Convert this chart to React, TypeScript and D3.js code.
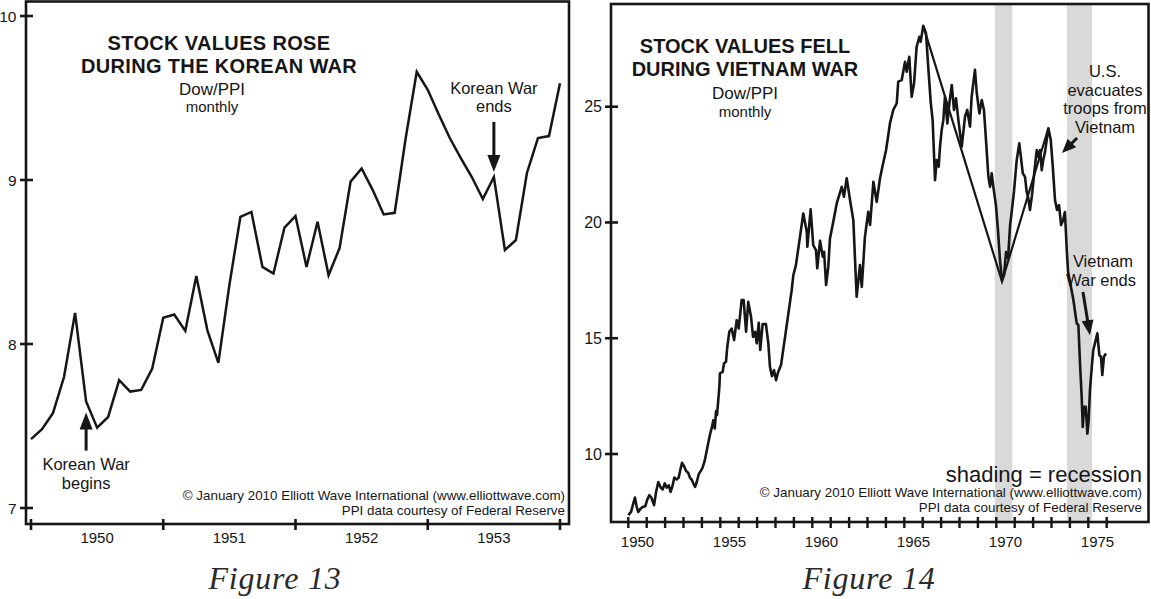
import React from 'react';
import * as d3 from 'd3';

// ---------- Figure 13: Korean War, Dow/PPI monthly, Jan 1950 .. Jan 1954 ----------
const koreaValues = [
  7.42, 7.48, 7.58, 7.80, 8.19, 7.65, 7.49, 7.555, 7.78, 7.71,
  7.72, 7.85, 8.16, 8.18, 8.08, 8.415, 8.085, 7.885, 8.36, 8.775,
  8.805, 8.47, 8.43, 8.71, 8.78, 8.47, 8.745, 8.42, 8.585, 8.99,
  9.07, 8.94, 8.79, 8.80, 9.256, 9.66, 9.55, 9.40, 9.256, 9.134,
  9.018, 8.884, 9.018, 8.573, 8.634, 9.043, 9.256, 9.268, 9.59,
];
const koreaYearLabels = ['1950', '1951', '1952', '1953'];
const koreaYTicks = [7, 8, 9, 10];

// ---------- Figure 14: Vietnam War, Dow/PPI monthly (turning points) ----------
const vietnamOffsets = [
  0.00, 0.15, 0.27, 0.36, 0.46, 0.54, 0.67, 0.78, 0.92, 1.03,
  1.14, 1.25, 1.40, 1.51, 1.63, 1.76, 1.87, 1.98, 2.09, 2.20,
  2.30, 2.41, 2.50, 2.63, 2.74, 2.83, 2.92, 3.03, 3.14, 3.26,
  3.35, 3.46, 3.55, 3.63, 3.72, 3.83, 3.94, 4.04, 4.15, 4.26,
  4.37, 4.46, 4.55, 4.62, 4.70, 4.77, 4.82, 4.89, 4.95, 4.98,
  5.13, 5.20, 5.31, 5.38, 5.49, 5.62, 5.75, 5.89, 6.00, 6.16,
  6.27, 6.40, 6.52, 6.67, 6.78, 6.89, 6.98, 7.09, 7.17, 7.30,
  7.48, 7.61, 7.70, 7.81, 7.92, 8.03, 8.14, 8.30, 8.52, 8.70,
  8.88, 8.97, 9.11, 9.33, 9.51, 9.70, 9.73, 9.91, 10.05, 10.20,
  10.27, 10.42, 10.57, 10.64, 10.75, 10.87, 10.96, 11.14, 11.33, 11.41,
  11.60, 11.72, 11.87, 12.05, 12.23, 12.41, 12.59, 12.69, 12.86, 13.04,
  13.14, 13.32, 13.50, 13.68, 13.83, 14.01, 14.13, 14.22, 14.40, 14.59,
  14.67, 14.86, 15.04, 15.13, 15.27, 15.40, 15.53, 15.67, 15.82, 15.89,
  16.03, 16.18, 16.30, 16.44, 16.54, 16.67, 16.76, 16.87, 16.94, 17.03,
  17.12, 17.21, 17.34, 17.45, 17.58, 17.70, 17.81, 17.94, 18.12, 18.30,
  18.42, 18.57, 18.66, 18.84, 18.94, 19.08, 19.21, 19.33, 19.44, 19.57,
  19.66, 19.75, 19.84, 19.98, 20.09, 20.20, 20.31, 20.42, 20.53, 20.64,
  20.75, 20.85, 20.96, 21.11, 21.25, 21.44, 21.56, 21.65, 21.74, 21.83,
  21.94, 22.05, 22.20, 22.28, 22.38, 22.47, 22.55, 22.65, 22.83, 22.96,
  23.07, 23.19, 23.30, 23.41, 23.52, 23.63, 23.73, 23.83, 23.90, 24.01,
  24.19, 24.37, 24.46, 24.55, 24.64, 24.70, 24.77, 24.86, 24.95, 25.02,
  25.09, 25.19, 25.27, 25.36, 25.49, 25.60, 25.69, 25.76, 25.85, 25.96,
];
const vietnamValues = [
  7.36, 7.50, 7.86, 8.12, 7.71, 7.50, 7.64, 7.71, 7.74, 8.03,
  8.22, 8.12, 7.79, 8.36, 8.79, 8.55, 8.47, 8.73, 8.55, 8.65,
  8.36, 8.65, 8.98, 8.90, 8.98, 9.33, 9.62, 9.47, 9.27, 9.18,
  8.98, 8.87, 8.70, 8.58, 8.79, 9.13, 9.27, 9.42, 9.70, 10.13,
  10.57, 10.91, 11.17, 11.46, 11.10, 11.86, 11.68, 12.33, 12.90, 13.48,
  13.55, 13.91, 13.98, 14.63, 15.28, 15.42, 14.92, 15.78, 15.42, 16.65,
  16.65, 15.28, 16.57, 15.93, 15.06, 15.28, 14.78, 15.67, 14.49, 15.61,
  15.61, 14.78, 13.76, 13.36, 13.62, 13.19, 13.53, 13.84, 15.06, 16.07,
  17.08, 17.73, 18.16, 19.38, 20.39, 19.60, 18.95, 20.57, 19.02, 18.81,
  18.02, 19.21, 18.52, 18.73, 17.30, 18.09, 19.31, 20.03, 20.83, 21.04,
  21.54, 21.11, 21.91, 20.97, 20.10, 16.79, 18.16, 17.22, 19.38, 20.46,
  19.89, 21.76, 20.89, 21.91, 22.48, 23.13, 23.78, 24.28, 24.86, 25.15,
  26.08, 26.15, 26.94, 26.51, 27.16, 25.43, 26.01, 27.59, 28.02, 27.81,
  28.49, 28.17, 26.73, 25.15, 24.42, 21.83, 22.70, 22.41, 23.27, 23.99,
  24.42, 25.43, 24.28, 25.15, 25.94, 24.86, 25.36, 24.42, 23.27, 24.57,
  24.86, 24.14, 25.43, 26.59, 25.58, 24.71, 25.29, 24.86, 23.56, 21.97,
  21.54, 22.12, 21.54, 20.75, 19.67, 18.38, 17.51, 17.73, 18.72, 18.46,
  19.89, 20.54, 21.33, 22.70, 23.42, 22.12, 21.97, 21.33, 21.04, 20.54,
  21.18, 22.05, 23.13, 22.84, 23.13, 22.26, 22.70, 23.06, 24.07, 23.56,
  22.41, 20.97, 20.54, 20.75, 19.89, 20.10, 20.45, 18.81, 17.86, 17.42,
  16.65, 15.64, 15.57, 13.91, 12.47, 11.17, 12.04, 12.04, 10.88, 11.46,
  12.76, 13.76, 14.49, 14.78, 15.21, 14.27, 14.20, 13.41, 14.20, 14.34,
];
const vietnamStartYear = 1950;
const vietnamYTicks = [10, 15, 20, 25];
const vietnamXLabels = [1950, 1955, 1960, 1965, 1970, 1975];
const vietnamFirstTick = 1950;
const vietnamLastTick = 1976;
const recessionStarts = [1969.92, 1973.84];
const recessionEnds = [1970.87, 1975.2];
const trendYears = [1966.03, 1970.31, 1972.83];
const trendValues = [28.49, 17.45, 24.07];

const FONT = '"Liberation Sans", Arial, Helvetica, sans-serif';
const INK = '#161616';

function Arrow({ x1, y1, x2, y2, head = 17, half = 6.5, width = 3 }: any) {
  const dx = x2 - x1, dy = y2 - y1;
  const len = Math.hypot(dx, dy);
  const ux = dx / len, uy = dy / len;
  const bx = x2 - ux * head, by = y2 - uy * head;
  const px = -uy, py = ux;
  const pts = [
    [x2, y2],
    [bx + px * half, by + py * half],
    [bx - px * half, by - py * half],
  ];
  return (
    <g>
      <line x1={x1} y1={y1} x2={bx + ux * 2} y2={by + uy * 2} stroke={INK} strokeWidth={width} />
      <polygon points={pts.map((p) => p.join(',')).join(' ')} fill={INK} />
    </g>
  );
}

function KoreaPanel() {
  const fx0 = 26, fx1 = 569, fy0 = 1.5, fy1 = 524;
  const x = d3.scaleLinear().domain([0, 48]).range([31, 560]);
  const y = d3.scaleLinear().domain([7, 10]).range([508, 16]);
  const line = d3.line<number>().x((_, i) => x(i)).y((d) => y(d));
  const tickMonths = d3.range(0, 49, 12);
  return (
    <g>
      <rect x={fx0} y={fy0} width={fx1 - fx0} height={fy1 - fy0} fill="white" stroke={INK} strokeWidth={2.6} />
      {koreaYTicks.map((t) => (
        <g key={t}>
          <line x1={fx0 - 6} x2={fx0 + 7} y1={y(t)} y2={y(t)} stroke={INK} strokeWidth={2.6} />
          <text x={16.5} y={y(t) + 5.5} textAnchor="end" fontSize={15.5} fontFamily={FONT} fill={INK}>{t}</text>
        </g>
      ))}
      {tickMonths.map((m) => (
        <line key={m} x1={x(m)} x2={x(m)} y1={fy1 - 5} y2={fy1 + 6} stroke={INK} strokeWidth={2.6} />
      ))}
      {koreaYearLabels.map((lab, i) => (
        <text key={lab} x={x(i * 12 + 6)} y={543} textAnchor="middle" fontSize={15} fontFamily={FONT} fill={INK}>{lab}</text>
      ))}
      <path d={line(koreaValues) || ''} fill="none" stroke={INK} strokeWidth={2.5} strokeLinejoin="miter" strokeMiterlimit={4} />
      <g fontFamily={FONT} fill={INK} textAnchor="middle">
        <text x={219} y={50} fontSize={20} fontWeight="bold" letterSpacing={0.35}>STOCK VALUES ROSE</text>
        <text x={219} y={73} fontSize={20} fontWeight="bold" letterSpacing={0.35}>DURING THE KOREAN WAR</text>
        <text x={212} y={95} fontSize={17}>Dow/PPI</text>
        <text x={212} y={112} fontSize={15}>monthly</text>
        <text x={x(42)} y={94} fontSize={16.5}>Korean War</text>
        <text x={x(42)} y={112} fontSize={16.5}>ends</text>
        <text x={x(5)} y={470} fontSize={16.5}>Korean War</text>
        <text x={x(5)} y={489} fontSize={16.5}>begins</text>
      </g>
      <Arrow x1={x(42)} y1={y(9.354)} x2={x(42)} y2={y(9.049)} />
      <Arrow x1={x(5)} y1={y(7.35)} x2={x(5)} y2={y(7.583)} />
      <g fontFamily={FONT} fill={INK} textAnchor="end" fontSize={13.4}>
        <text x={565} y={500}>© January 2010 Elliott Wave International (www.elliottwave.com)</text>
        <text x={565} y={515}>PPI data courtesy of Federal Reserve</text>
      </g>
    </g>
  );
}

function VietnamPanel() {
  const fx0 = 611, fx1 = 1148.5, fy0 = 4, fy1 = 522;
  const x = d3.scaleLinear().domain([vietnamFirstTick, vietnamLastTick]).range([628.3, 1106.7]);
  const y = d3.scaleLinear().domain([10, 25]).range([454, 106.7]);
  const years = vietnamOffsets.map((o) => vietnamStartYear + o);
  const line = d3.line<number>().x((_, i) => x(years[i])).y((d) => y(d));
  const trend = d3.line<number>().x((_, i) => x(trendYears[i])).y((d) => y(d));
  const tickYears = d3.range(vietnamFirstTick, vietnamLastTick + 1);
  return (
    <g>
      <rect x={fx0} y={fy0} width={fx1 - fx0} height={fy1 - fy0} fill="white" stroke="none" />
      {recessionStarts.map((s, i) => (
        <rect key={i} x={x(s)} y={fy0} width={x(recessionEnds[i]) - x(s)} height={fy1 - fy0} fill="#d9d9d9" />
      ))}
      <rect x={fx0} y={fy0} width={fx1 - fx0} height={fy1 - fy0} fill="none" stroke={INK} strokeWidth={2.6} />
      {vietnamYTicks.map((t) => (
        <g key={t}>
          <line x1={fx0 - 6} x2={fx0 + 7} y1={y(t)} y2={y(t)} stroke={INK} strokeWidth={2.6} />
          <text x={602} y={y(t) + 5.5} textAnchor="end" fontSize={16} fontFamily={FONT} fill={INK}>{t}</text>
        </g>
      ))}
      {tickYears.map((t) => (
        <line key={t} x1={x(t)} x2={x(t)} y1={fy1 - 5} y2={fy1 + 6} stroke={INK} strokeWidth={2.4} />
      ))}
      {vietnamXLabels.map((t) => (
        <text key={t} x={x(t + 0.5)} y={547} textAnchor="middle" fontSize={15} fontFamily={FONT} fill={INK}>{t}</text>
      ))}
      <path d={trend(trendValues) || ''} fill="none" stroke={INK} strokeWidth={2.2} />
      <path d={line(vietnamValues) || ''} fill="none" stroke={INK} strokeWidth={2.6} strokeLinejoin="round" />
      <g fontFamily={FONT} fill={INK} textAnchor="middle">
        <text x={745} y={53} fontSize={20} fontWeight="bold">STOCK VALUES FELL</text>
        <text x={745} y={76} fontSize={20} fontWeight="bold">DURING VIETNAM WAR</text>
        <text x={745} y={99} fontSize={17}>Dow/PPI</text>
        <text x={745} y={117} fontSize={15}>monthly</text>
        <text x={1105} y={77} fontSize={16.5}>U.S.</text>
        <text x={1105} y={95.5} fontSize={16.5}>evacuates</text>
        <text x={1105} y={114} fontSize={16.5}>troops from</text>
        <text x={1105} y={132.5} fontSize={16.5}>Vietnam</text>
        <text x={1103} y={267} fontSize={16.5}>Vietnam</text>
        <text x={1101} y={285.5} fontSize={16.5}>War ends</text>
      </g>
      <Arrow x1={x(1974.39)} y1={y(23.65)} x2={x(1973.57)} y2={y(23.0)} head={14} half={6} />
      <Arrow x1={x(1974.71)} y1={y(17.0)} x2={x(1975.09)} y2={y(15.13)} head={15} half={6} />
      <g fontFamily={FONT} fill={INK} textAnchor="end">
        <text x={1142} y={482} fontSize={22}>shading = recession</text>
        <text x={1142} y={497} fontSize={13.4}>© January 2010 Elliott Wave International (www.elliottwave.com)</text>
        <text x={1142} y={512} fontSize={13.4}>PPI data courtesy of Federal Reserve</text>
      </g>
    </g>
  );
}

export default function App() {
  return (
    <svg width={1151} height={599} viewBox="0 0 1151 599" style={{ position: 'absolute', left: 0, top: 0, background: 'white' }}>
      <rect x={0} y={0} width={1151} height={599} fill="white" />
      <KoreaPanel />
      <VietnamPanel />
      <g fontFamily='"Liberation Serif", "Times New Roman", serif' fontStyle="italic" fill="#2a2a2a" textAnchor="middle" fontSize={32} letterSpacing={0.8}>
        <text x={275} y={589}>Figure 13</text>
        <text x={869} y={589}>Figure 14</text>
      </g>
    </svg>
  );
}
